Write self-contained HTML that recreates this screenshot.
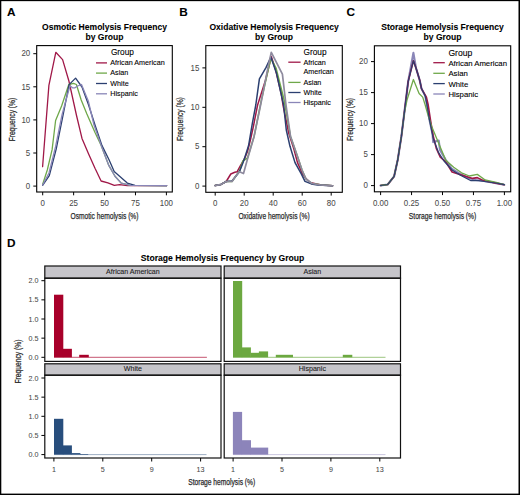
<!DOCTYPE html>
<html><head><meta charset="utf-8"><style>
html,body{margin:0;padding:0;background:#fff;}
svg{display:block;}
text{font-family:"Liberation Sans",sans-serif;}
</style></head><body>
<svg width="520" height="495" viewBox="0 0 520 495">
<rect x="0" y="0" width="520" height="495" fill="#fff"/>
<text x="7.0" y="16.0" font-size="11.8" font-weight="bold" fill="#000" stroke="#000" stroke-width="0.08" >A</text>
<text x="179.2" y="16.0" font-size="11.8" font-weight="bold" fill="#000" stroke="#000" stroke-width="0.08" >B</text>
<text x="346.4" y="16.0" font-size="11.8" font-weight="bold" fill="#000" stroke="#000" stroke-width="0.08" >C</text>
<text x="7.1" y="247.4" font-size="11.8" font-weight="bold" fill="#000" stroke="#000" stroke-width="0.08" >D</text>
<text x="104.5" y="29.5" font-size="8.55" font-weight="bold" text-anchor="middle" fill="#000" stroke="#000" stroke-width="0.08" >Osmotic Hemolysis Frequency</text>
<text x="104.5" y="39.5" font-size="8.55" font-weight="bold" text-anchor="middle" fill="#000" stroke="#000" stroke-width="0.08" >by Group</text>
<polyline points="42.6,166.7 48.9,85.4 55.8,52.3 62.6,59.6 68.9,81.0 76.4,115 82,138.4 88.5,153.8 95,168.3 101.1,181 107.9,182.9 114.3,185.3 119.6,184.6 127.3,185.7 166.6,185.7" fill="none" stroke="#a01848" stroke-width="1.3" stroke-linejoin="round" stroke-linecap="round"/>
<polyline points="42.6,184.5 47.3,170 52.1,149.7 55.6,120.5 61.6,106 68.8,84.5 73.5,83.3 76.4,84.5 81.2,100 86.9,114 95,132.5 101.2,145.4 108.8,165.4 115,176.2 121.2,183.1 130.4,185.4 166.6,185.7" fill="none" stroke="#6fa84a" stroke-width="1.3" stroke-linejoin="round" stroke-linecap="round"/>
<polyline points="42.6,185.3 49.3,175.6 56.2,149 62.6,117.4 69.1,84.6 75.6,78.1 82,87 88.5,104.8 95,125 101.9,145.4 108.8,159.2 114.2,171.5 119.6,176.2 127.3,183.1 135,185.4 166.6,185.7" fill="none" stroke="#2b3f70" stroke-width="1.3" stroke-linejoin="round" stroke-linecap="round"/>
<polyline points="42.6,185.0 49.0,173 55.5,147 62.0,115 66,100 70,85.8 72.5,87.8 75,87.8 77.6,86 81.5,84.5 86,95.5 88.3,101 94,125 101.2,145.4 108.8,165.4 115,176.2 121.2,183.1 130.4,185.4 166.6,185.7" fill="none" stroke="#8a86b8" stroke-width="1.3" stroke-linejoin="round" stroke-linecap="round"/>
<rect x="36.7" y="45.6" width="135.60000000000002" height="146.4" fill="none" stroke="#000" stroke-width="1.1"/>
<line x1="42.7" y1="192.0" x2="42.7" y2="195.3" stroke="#000" stroke-width="1"/>
<text transform="translate(42.70,206.00) scale(0.92,1)" font-size="8.6" text-anchor="middle" fill="#4a4a4a" stroke="#4a4a4a" stroke-width="0.05">0</text>
<line x1="73.625" y1="192.0" x2="73.625" y2="195.3" stroke="#000" stroke-width="1"/>
<text transform="translate(73.62,206.00) scale(0.92,1)" font-size="8.6" text-anchor="middle" fill="#4a4a4a" stroke="#4a4a4a" stroke-width="0.05">25</text>
<line x1="104.55000000000001" y1="192.0" x2="104.55000000000001" y2="195.3" stroke="#000" stroke-width="1"/>
<text transform="translate(104.55,206.00) scale(0.92,1)" font-size="8.6" text-anchor="middle" fill="#4a4a4a" stroke="#4a4a4a" stroke-width="0.05">50</text>
<line x1="135.47500000000002" y1="192.0" x2="135.47500000000002" y2="195.3" stroke="#000" stroke-width="1"/>
<text transform="translate(135.48,206.00) scale(0.92,1)" font-size="8.6" text-anchor="middle" fill="#4a4a4a" stroke="#4a4a4a" stroke-width="0.05">75</text>
<line x1="166.40000000000003" y1="192.0" x2="166.40000000000003" y2="195.3" stroke="#000" stroke-width="1"/>
<text transform="translate(166.40,206.00) scale(0.92,1)" font-size="8.6" text-anchor="middle" fill="#4a4a4a" stroke="#4a4a4a" stroke-width="0.05">100</text>
<line x1="33.300000000000004" y1="186.1" x2="36.7" y2="186.1" stroke="#000" stroke-width="1"/>
<text transform="translate(30.20,188.85) scale(0.92,1)" font-size="8.6" text-anchor="end" fill="#4a4a4a" stroke="#4a4a4a" stroke-width="0.05">0</text>
<line x1="33.300000000000004" y1="153.0" x2="36.7" y2="153.0" stroke="#000" stroke-width="1"/>
<text transform="translate(30.20,155.75) scale(0.92,1)" font-size="8.6" text-anchor="end" fill="#4a4a4a" stroke="#4a4a4a" stroke-width="0.05">5</text>
<line x1="33.300000000000004" y1="119.89999999999999" x2="36.7" y2="119.89999999999999" stroke="#000" stroke-width="1"/>
<text transform="translate(30.20,122.65) scale(0.92,1)" font-size="8.6" text-anchor="end" fill="#4a4a4a" stroke="#4a4a4a" stroke-width="0.05">10</text>
<line x1="33.300000000000004" y1="86.8" x2="36.7" y2="86.8" stroke="#000" stroke-width="1"/>
<text transform="translate(30.20,89.55) scale(0.92,1)" font-size="8.6" text-anchor="end" fill="#4a4a4a" stroke="#4a4a4a" stroke-width="0.05">15</text>
<line x1="33.300000000000004" y1="53.69999999999999" x2="36.7" y2="53.69999999999999" stroke="#000" stroke-width="1"/>
<text transform="translate(30.20,56.45) scale(0.92,1)" font-size="8.6" text-anchor="end" fill="#4a4a4a" stroke="#4a4a4a" stroke-width="0.05">20</text>
<text x="104.5" y="219.4" font-size="9.5" text-anchor="middle" fill="#2a2a2a" textLength="68.0" lengthAdjust="spacingAndGlyphs" stroke="#2a2a2a" stroke-width="0.25">Osmotic hemolysis (%)</text>
<text transform="translate(14.6,119.6) rotate(-90)" x="0" y="0" font-size="9.6" text-anchor="middle" fill="#2a2a2a" textLength="43.5" lengthAdjust="spacingAndGlyphs" stroke="#2a2a2a" stroke-width="0.25">Frequency (%)</text>
<text x="110.9" y="55.3" font-size="8.3" fill="#000" stroke="#000" stroke-width="0.1" >Group</text>
<line x1="96" y1="62.9" x2="107" y2="62.9" stroke="#a01848" stroke-width="1.3"/>
<text x="110.3" y="65.1" font-size="7.2" fill="#000" stroke="#000" stroke-width="0.1" >African American</text>
<line x1="96" y1="73.1" x2="107" y2="73.1" stroke="#6fa84a" stroke-width="1.3"/>
<text x="110.3" y="75.3" font-size="7.2" fill="#000" stroke="#000" stroke-width="0.1" >Asian</text>
<line x1="96" y1="83.5" x2="107" y2="83.5" stroke="#2b3f70" stroke-width="1.3"/>
<text x="110.3" y="85.7" font-size="7.2" fill="#000" stroke="#000" stroke-width="0.1" >White</text>
<line x1="96" y1="93.8" x2="107" y2="93.8" stroke="#8a86b8" stroke-width="1.3"/>
<text x="110.3" y="96.0" font-size="7.2" fill="#000" stroke="#000" stroke-width="0.1" >Hispanic</text>
<text x="274.05" y="29.5" font-size="8.55" font-weight="bold" text-anchor="middle" fill="#000" stroke="#000" stroke-width="0.08" >Oxidative Hemolysis Frequency</text>
<text x="274.05" y="39.5" font-size="8.55" font-weight="bold" text-anchor="middle" fill="#000" stroke="#000" stroke-width="0.08" >by Group</text>
<polyline points="215.2,185.6 221,184.4 226.2,181.5 230.8,174 234.8,172.3 237.2,171.7 240.6,165.4 244.1,159.6 247.5,151.5 250.4,140 253.2,127.3 257.6,105 265.5,80.2 271.3,56.5 275.8,70.5 281.2,93.5 283,105 288.6,132.7 293.8,148.8 297.5,162.6 302.5,173.9 305.7,178.2 310,182.6 320,184.8 332.6,185.8" fill="none" stroke="#a01848" stroke-width="1.5" stroke-linejoin="round" stroke-linecap="round"/>
<polyline points="215.2,185.6 221,184.4 226.2,181.5 232,181.5 236,175.8 239.5,171.2 242.9,160.8 247.5,158.0 254.1,136.4 261.4,100 267,75 270.9,58.3 276,68 284.1,100 290.5,136.4 296.8,154.5 302,170 306,179 312,183.5 320,184.8 332.6,185.8" fill="none" stroke="#6fa84a" stroke-width="1.5" stroke-linejoin="round" stroke-linecap="round"/>
<polyline points="215.2,185.6 221,184.4 226.2,181.5 232,181 236,176 239.5,171.5 242.9,163 245.2,156.2 248.6,145.5 252.3,123.6 255.8,105 259.4,78.9 266.1,67.4 270.9,57.1 276.4,72.9 283.6,105 286.3,130 290,146.3 295,162.6 301.3,173.9 305,181.4 311.3,183.9 317.6,185.1 332.6,185.8" fill="none" stroke="#2b3f70" stroke-width="1.5" stroke-linejoin="round" stroke-linecap="round"/>
<polyline points="215.2,185.6 221,184.4 226.2,181.5 232,181.5 236,175.8 239.5,171.7 243.5,173.5 247.5,159 254.1,136.4 260.6,105 267.9,68 271.3,52.3 282.4,74.1 286,105 290.5,136.4 296.8,154.5 302,170 306,179 312,183.5 320,184.8 332.6,185.8" fill="none" stroke="#8e8a9e" stroke-width="1.7" stroke-linejoin="round" stroke-linecap="round"/>
<rect x="205.8" y="45.6" width="136.5" height="146.70000000000002" fill="none" stroke="#000" stroke-width="1.1"/>
<line x1="215.2" y1="192.3" x2="215.2" y2="195.60000000000002" stroke="#000" stroke-width="1"/>
<text transform="translate(215.20,206.00) scale(0.92,1)" font-size="8.6" text-anchor="middle" fill="#4a4a4a" stroke="#4a4a4a" stroke-width="0.05">0</text>
<line x1="244.2" y1="192.3" x2="244.2" y2="195.60000000000002" stroke="#000" stroke-width="1"/>
<text transform="translate(244.20,206.00) scale(0.92,1)" font-size="8.6" text-anchor="middle" fill="#4a4a4a" stroke="#4a4a4a" stroke-width="0.05">20</text>
<line x1="273.2" y1="192.3" x2="273.2" y2="195.60000000000002" stroke="#000" stroke-width="1"/>
<text transform="translate(273.20,206.00) scale(0.92,1)" font-size="8.6" text-anchor="middle" fill="#4a4a4a" stroke="#4a4a4a" stroke-width="0.05">40</text>
<line x1="302.2" y1="192.3" x2="302.2" y2="195.60000000000002" stroke="#000" stroke-width="1"/>
<text transform="translate(302.20,206.00) scale(0.92,1)" font-size="8.6" text-anchor="middle" fill="#4a4a4a" stroke="#4a4a4a" stroke-width="0.05">60</text>
<line x1="331.2" y1="192.3" x2="331.2" y2="195.60000000000002" stroke="#000" stroke-width="1"/>
<text transform="translate(331.20,206.00) scale(0.92,1)" font-size="8.6" text-anchor="middle" fill="#4a4a4a" stroke="#4a4a4a" stroke-width="0.05">80</text>
<line x1="202.4" y1="186.1" x2="205.8" y2="186.1" stroke="#000" stroke-width="1"/>
<text transform="translate(199.30,188.85) scale(0.92,1)" font-size="8.6" text-anchor="end" fill="#4a4a4a" stroke="#4a4a4a" stroke-width="0.05">0</text>
<line x1="202.4" y1="146.7" x2="205.8" y2="146.7" stroke="#000" stroke-width="1"/>
<text transform="translate(199.30,149.45) scale(0.92,1)" font-size="8.6" text-anchor="end" fill="#4a4a4a" stroke="#4a4a4a" stroke-width="0.05">5</text>
<line x1="202.4" y1="107.3" x2="205.8" y2="107.3" stroke="#000" stroke-width="1"/>
<text transform="translate(199.30,110.05) scale(0.92,1)" font-size="8.6" text-anchor="end" fill="#4a4a4a" stroke="#4a4a4a" stroke-width="0.05">10</text>
<line x1="202.4" y1="67.89999999999999" x2="205.8" y2="67.89999999999999" stroke="#000" stroke-width="1"/>
<text transform="translate(199.30,70.65) scale(0.92,1)" font-size="8.6" text-anchor="end" fill="#4a4a4a" stroke="#4a4a4a" stroke-width="0.05">15</text>
<text x="274.05" y="219.4" font-size="9.5" text-anchor="middle" fill="#2a2a2a" textLength="71.2" lengthAdjust="spacingAndGlyphs" stroke="#2a2a2a" stroke-width="0.25">Oxidative hemolysis (%)</text>
<text transform="translate(183.4,119.1) rotate(-90)" x="0" y="0" font-size="9.6" text-anchor="middle" fill="#2a2a2a" textLength="43.8" lengthAdjust="spacingAndGlyphs" stroke="#2a2a2a" stroke-width="0.25">Frequency (%)</text>
<text x="303.5" y="55.4" font-size="8.3" fill="#000" stroke="#000" stroke-width="0.1" >Group</text>
<line x1="288.3" y1="62.2" x2="300.6" y2="62.2" stroke="#a01848" stroke-width="1.3"/>
<text x="303.4" y="64.60000000000001" font-size="7.2" fill="#000" stroke="#000" stroke-width="0.1" >African</text>
<line x1="288.3" y1="82.4" x2="300.6" y2="82.4" stroke="#6fa84a" stroke-width="1.3"/>
<text x="303.4" y="84.80000000000001" font-size="7.2" fill="#000" stroke="#000" stroke-width="0.1" >Asian</text>
<line x1="288.3" y1="92.5" x2="300.6" y2="92.5" stroke="#2b3f70" stroke-width="1.3"/>
<text x="303.4" y="94.9" font-size="7.2" fill="#000" stroke="#000" stroke-width="0.1" >White</text>
<line x1="288.3" y1="102.5" x2="300.6" y2="102.5" stroke="#8a86b8" stroke-width="1.3"/>
<text x="303.4" y="104.9" font-size="7.2" fill="#000" stroke="#000" stroke-width="0.1" >Hispanic</text>
<text x="303.4" y="73.7" font-size="7.2" fill="#000" stroke="#000" stroke-width="0.1" >American</text>
<text x="442.54999999999995" y="29.5" font-size="8.55" font-weight="bold" text-anchor="middle" fill="#000" stroke="#000" stroke-width="0.08" >Storage Hemolysis Frequency</text>
<text x="442.54999999999995" y="39.5" font-size="8.55" font-weight="bold" text-anchor="middle" fill="#000" stroke="#000" stroke-width="0.08" >by Group</text>
<polyline points="380.6,185.5 387.7,184.5 394.1,176.4 397.7,160 401.4,136.4 405.9,100 408.2,81.4 413.4,52.9 416,68 419.7,80.2 421.5,88.6 425.2,95.9 427,105 429.5,120 432.5,134 433.2,142.1 438.7,140.5 440,150 445.8,160 452,169 460,174 468,178 476,180 484,181 492,182.5 504.3,184.7" fill="none" stroke="#8a86b8" stroke-width="2.1" stroke-linejoin="round" stroke-linecap="round"/>
<polyline points="380.6,185.5 387.7,184.5 394.1,176.4 397.7,160 401.4,136.4 405.9,100 408.2,81.4 413.4,60.8 416,68 419.7,80.2 421.5,88.6 426.4,97.1 428.2,105 430.5,120 433.2,136 436.3,148.4 440.3,157.1 445.8,161.8 452.1,172 456.8,173.6 464.7,176 472.6,178.4 477.3,177.6 482.1,180 488.4,181.5 496.2,183.1 504.3,184.7" fill="none" stroke="#a01848" stroke-width="1.6" stroke-linejoin="round" stroke-linecap="round"/>
<polyline points="380.6,185.5 387.7,184.5 394.1,176.4 397.7,160 401.4,136.4 404.5,112 407,100 413.4,79.5 419.1,93.5 422.7,97.1 425.2,105 428,115 431.6,126.3 439.5,145.2 445.8,160.2 453.7,167.3 461.5,172.8 469.4,176 477.3,174.4 485.2,180 496.2,182.3 504.3,184.7" fill="none" stroke="#6fa84a" stroke-width="1.3" stroke-linejoin="round" stroke-linecap="round"/>
<polyline points="380.6,185.5 387.7,184.5 394.1,176.4 397.7,160 401.4,136.4 405.9,100 408.2,81.4 413.4,60.8 416,68 419.7,80.2 421.5,88.6 425.2,95.9 427,105 429.5,120 433.2,138.2 438.6,152.7 444,161 452,170 460,175 471,180.7 478.9,180.7 488,182 496,183 504.3,184.7" fill="none" stroke="#2b3f70" stroke-width="1.2" stroke-linejoin="round" stroke-linecap="round"/>
<rect x="374.4" y="45.8" width="136.3" height="146.0" fill="none" stroke="#000" stroke-width="1.1"/>
<line x1="380.6" y1="191.8" x2="380.6" y2="195.10000000000002" stroke="#000" stroke-width="1"/>
<text transform="translate(380.60,206.00) scale(0.92,1)" font-size="8.6" text-anchor="middle" fill="#4a4a4a" stroke="#4a4a4a" stroke-width="0.05">0.00</text>
<line x1="411.55" y1="191.8" x2="411.55" y2="195.10000000000002" stroke="#000" stroke-width="1"/>
<text transform="translate(411.55,206.00) scale(0.92,1)" font-size="8.6" text-anchor="middle" fill="#4a4a4a" stroke="#4a4a4a" stroke-width="0.05">0.25</text>
<line x1="442.5" y1="191.8" x2="442.5" y2="195.10000000000002" stroke="#000" stroke-width="1"/>
<text transform="translate(442.50,206.00) scale(0.92,1)" font-size="8.6" text-anchor="middle" fill="#4a4a4a" stroke="#4a4a4a" stroke-width="0.05">0.50</text>
<line x1="473.45000000000005" y1="191.8" x2="473.45000000000005" y2="195.10000000000002" stroke="#000" stroke-width="1"/>
<text transform="translate(473.45,206.00) scale(0.92,1)" font-size="8.6" text-anchor="middle" fill="#4a4a4a" stroke="#4a4a4a" stroke-width="0.05">0.75</text>
<line x1="504.40000000000003" y1="191.8" x2="504.40000000000003" y2="195.10000000000002" stroke="#000" stroke-width="1"/>
<text transform="translate(504.40,206.00) scale(0.92,1)" font-size="8.6" text-anchor="middle" fill="#4a4a4a" stroke="#4a4a4a" stroke-width="0.05">1.00</text>
<line x1="371.0" y1="185.6" x2="374.4" y2="185.6" stroke="#000" stroke-width="1"/>
<text transform="translate(367.90,188.35) scale(0.92,1)" font-size="8.6" text-anchor="end" fill="#4a4a4a" stroke="#4a4a4a" stroke-width="0.05">0</text>
<line x1="371.0" y1="154.6" x2="374.4" y2="154.6" stroke="#000" stroke-width="1"/>
<text transform="translate(367.90,157.35) scale(0.92,1)" font-size="8.6" text-anchor="end" fill="#4a4a4a" stroke="#4a4a4a" stroke-width="0.05">5</text>
<line x1="371.0" y1="123.6" x2="374.4" y2="123.6" stroke="#000" stroke-width="1"/>
<text transform="translate(367.90,126.35) scale(0.92,1)" font-size="8.6" text-anchor="end" fill="#4a4a4a" stroke="#4a4a4a" stroke-width="0.05">10</text>
<line x1="371.0" y1="92.6" x2="374.4" y2="92.6" stroke="#000" stroke-width="1"/>
<text transform="translate(367.90,95.35) scale(0.92,1)" font-size="8.6" text-anchor="end" fill="#4a4a4a" stroke="#4a4a4a" stroke-width="0.05">15</text>
<line x1="371.0" y1="61.599999999999994" x2="374.4" y2="61.599999999999994" stroke="#000" stroke-width="1"/>
<text transform="translate(367.90,64.35) scale(0.92,1)" font-size="8.6" text-anchor="end" fill="#4a4a4a" stroke="#4a4a4a" stroke-width="0.05">20</text>
<text x="442.54999999999995" y="219.4" font-size="9.5" text-anchor="middle" fill="#2a2a2a" textLength="67.5" lengthAdjust="spacingAndGlyphs" stroke="#2a2a2a" stroke-width="0.25">Storage hemolysis (%)</text>
<text transform="translate(352.6,119.5) rotate(-90)" x="0" y="0" font-size="9.6" text-anchor="middle" fill="#2a2a2a" textLength="43.0" lengthAdjust="spacingAndGlyphs" stroke="#2a2a2a" stroke-width="0.25">Frequency (%)</text>
<text x="448.4" y="55.6" font-size="8.6" fill="#000" stroke="#000" stroke-width="0.1" >Group</text>
<line x1="433.3" y1="62.7" x2="444.8" y2="62.7" stroke="#a01848" stroke-width="1.3"/>
<text x="448.4" y="65.60000000000001" font-size="7.75" fill="#000" stroke="#000" stroke-width="0.1" >African American</text>
<line x1="433.3" y1="73.3" x2="444.8" y2="73.3" stroke="#6fa84a" stroke-width="1.3"/>
<text x="448.4" y="76.2" font-size="7.75" fill="#000" stroke="#000" stroke-width="0.1" >Asian</text>
<line x1="433.3" y1="83.6" x2="444.8" y2="83.6" stroke="#2b3f70" stroke-width="1.3"/>
<text x="448.4" y="86.5" font-size="7.75" fill="#000" stroke="#000" stroke-width="0.1" >White</text>
<line x1="433.3" y1="94.0" x2="444.8" y2="94.0" stroke="#8a86b8" stroke-width="1.3"/>
<text x="448.4" y="96.9" font-size="7.75" fill="#000" stroke="#000" stroke-width="0.1" >Hispanic</text>
<text x="222.6" y="260.8" font-size="8.58" font-weight="bold" text-anchor="middle" fill="#000" stroke="#000" stroke-width="0.08" >Storage Hemolysis Frequency by Group</text>
<line x1="54" y1="357.29999999999995" x2="206.9" y2="357.29999999999995" stroke="#a8002a" stroke-width="0.9" stroke-opacity="0.75"/>
<rect x="54" y="294.7" width="9.299999999999999" height="62.599999999999966" fill="#a8002a" stroke="none" stroke-width="1"/>
<rect x="62.9" y="348.8" width="9.000000000000002" height="8.499999999999943" fill="#a8002a" stroke="none" stroke-width="1"/>
<rect x="79.2" y="354.8" width="9.600000000000003" height="2.499999999999943" fill="#a8002a" stroke="none" stroke-width="1"/>
<rect x="44.8" y="266.0" width="176.2" height="12.199999999999989" fill="#c6c5ca" stroke="#111" stroke-width="1.2"/>
<rect x="44.8" y="278.2" width="176.2" height="83.19999999999999" fill="none" stroke="#111" stroke-width="1.2"/>
<text x="132.9" y="274.2" font-size="7.1" text-anchor="middle" fill="#222" stroke="#222" stroke-width="0.1" >African American</text>
<line x1="233.0" y1="357.29999999999995" x2="385.5" y2="357.29999999999995" stroke="#6ca840" stroke-width="0.9" stroke-opacity="0.75"/>
<rect x="233.0" y="281.0" width="9.200000000000012" height="76.29999999999995" fill="#6ca840" stroke="none" stroke-width="1"/>
<rect x="241.8" y="347.4" width="9.099999999999989" height="9.899999999999977" fill="#6ca840" stroke="none" stroke-width="1"/>
<rect x="250.5" y="352.8" width="8.799999999999978" height="4.499999999999943" fill="#6ca840" stroke="none" stroke-width="1"/>
<rect x="258.9" y="351.4" width="9.200000000000012" height="5.899999999999977" fill="#6ca840" stroke="none" stroke-width="1"/>
<rect x="275.8" y="354.8" width="17.20000000000001" height="2.499999999999943" fill="#6ca840" stroke="none" stroke-width="1"/>
<rect x="342.8" y="354.8" width="9.499999999999966" height="2.499999999999943" fill="#6ca840" stroke="none" stroke-width="1"/>
<rect x="224.2" y="266.0" width="176.3" height="12.199999999999989" fill="#c6c5ca" stroke="#111" stroke-width="1.2"/>
<rect x="224.2" y="278.2" width="176.3" height="83.19999999999999" fill="none" stroke="#111" stroke-width="1.2"/>
<text x="312.35" y="274.2" font-size="7.1" text-anchor="middle" fill="#222" stroke="#222" stroke-width="0.1" >Asian</text>
<line x1="54" y1="454.6" x2="206.5" y2="454.6" stroke="#284e7d" stroke-width="0.9" stroke-opacity="0.5"/>
<rect x="54" y="418.8" width="9.299999999999999" height="35.80000000000001" fill="#284e7d" stroke="none" stroke-width="1"/>
<rect x="62.9" y="445.4" width="9.000000000000002" height="9.200000000000045" fill="#284e7d" stroke="none" stroke-width="1"/>
<rect x="71.5" y="453.1" width="8.9" height="1.5" fill="#284e7d" stroke="none" stroke-width="1"/>
<rect x="80" y="454.0" width="8.199999999999998" height="0.6000000000000227" fill="#284e7d" stroke="none" stroke-width="1"/>
<rect x="44.8" y="363.8" width="176.2" height="11.399999999999977" fill="#c6c5ca" stroke="#111" stroke-width="1.2"/>
<rect x="44.8" y="375.2" width="176.2" height="82.80000000000001" fill="none" stroke="#111" stroke-width="1.2"/>
<text x="132.9" y="371.2" font-size="7.1" text-anchor="middle" fill="#222" stroke="#222" stroke-width="0.1" >White</text>
<line x1="233.0" y1="454.6" x2="385.5" y2="454.6" stroke="#8c84ba" stroke-width="0.9" stroke-opacity="0.5"/>
<rect x="232.9" y="411.9" width="9.199999999999983" height="42.700000000000045" fill="#8c84ba" stroke="none" stroke-width="1"/>
<rect x="241.7" y="440.2" width="9.300000000000006" height="14.400000000000034" fill="#8c84ba" stroke="none" stroke-width="1"/>
<rect x="250.6" y="447.6" width="17.600000000000016" height="7.0" fill="#8c84ba" stroke="none" stroke-width="1"/>
<rect x="224.2" y="363.8" width="176.3" height="11.399999999999977" fill="#c6c5ca" stroke="#111" stroke-width="1.2"/>
<rect x="224.2" y="375.2" width="176.3" height="82.80000000000001" fill="none" stroke="#111" stroke-width="1.2"/>
<text x="312.35" y="371.2" font-size="7.1" text-anchor="middle" fill="#222" stroke="#222" stroke-width="0.1" >Hispanic</text>
<line x1="41.4" y1="357.3" x2="44.8" y2="357.3" stroke="#000" stroke-width="1"/>
<text transform="translate(38.50,359.85) scale(0.92,1)" font-size="7.8" text-anchor="end" fill="#4a4a4a" stroke="#4a4a4a" stroke-width="0.05">0.0</text>
<line x1="41.4" y1="338.15000000000003" x2="44.8" y2="338.15000000000003" stroke="#000" stroke-width="1"/>
<text transform="translate(38.50,340.70) scale(0.92,1)" font-size="7.8" text-anchor="end" fill="#4a4a4a" stroke="#4a4a4a" stroke-width="0.05">0.5</text>
<line x1="41.4" y1="319.0" x2="44.8" y2="319.0" stroke="#000" stroke-width="1"/>
<text transform="translate(38.50,321.55) scale(0.92,1)" font-size="7.8" text-anchor="end" fill="#4a4a4a" stroke="#4a4a4a" stroke-width="0.05">1.0</text>
<line x1="41.4" y1="299.85" x2="44.8" y2="299.85" stroke="#000" stroke-width="1"/>
<text transform="translate(38.50,302.40) scale(0.92,1)" font-size="7.8" text-anchor="end" fill="#4a4a4a" stroke="#4a4a4a" stroke-width="0.05">1.5</text>
<line x1="41.4" y1="280.70000000000005" x2="44.8" y2="280.70000000000005" stroke="#000" stroke-width="1"/>
<text transform="translate(38.50,283.25) scale(0.92,1)" font-size="7.8" text-anchor="end" fill="#4a4a4a" stroke="#4a4a4a" stroke-width="0.05">2.0</text>
<line x1="41.4" y1="454.6" x2="44.8" y2="454.6" stroke="#000" stroke-width="1"/>
<text transform="translate(38.50,457.15) scale(0.92,1)" font-size="7.8" text-anchor="end" fill="#4a4a4a" stroke="#4a4a4a" stroke-width="0.05">0.0</text>
<line x1="41.4" y1="435.45000000000005" x2="44.8" y2="435.45000000000005" stroke="#000" stroke-width="1"/>
<text transform="translate(38.50,438.00) scale(0.92,1)" font-size="7.8" text-anchor="end" fill="#4a4a4a" stroke="#4a4a4a" stroke-width="0.05">0.5</text>
<line x1="41.4" y1="416.3" x2="44.8" y2="416.3" stroke="#000" stroke-width="1"/>
<text transform="translate(38.50,418.85) scale(0.92,1)" font-size="7.8" text-anchor="end" fill="#4a4a4a" stroke="#4a4a4a" stroke-width="0.05">1.0</text>
<line x1="41.4" y1="397.15000000000003" x2="44.8" y2="397.15000000000003" stroke="#000" stroke-width="1"/>
<text transform="translate(38.50,399.70) scale(0.92,1)" font-size="7.8" text-anchor="end" fill="#4a4a4a" stroke="#4a4a4a" stroke-width="0.05">1.5</text>
<line x1="41.4" y1="378.0" x2="44.8" y2="378.0" stroke="#000" stroke-width="1"/>
<text transform="translate(38.50,380.55) scale(0.92,1)" font-size="7.8" text-anchor="end" fill="#4a4a4a" stroke="#4a4a4a" stroke-width="0.05">2.0</text>
<line x1="53.9" y1="458" x2="53.9" y2="461.5" stroke="#000" stroke-width="1"/>
<text transform="translate(53.90,471.60) scale(0.92,1)" font-size="7.8" text-anchor="middle" fill="#4a4a4a" stroke="#4a4a4a" stroke-width="0.05">1</text>
<line x1="102.8" y1="458" x2="102.8" y2="461.5" stroke="#000" stroke-width="1"/>
<text transform="translate(102.80,471.60) scale(0.92,1)" font-size="7.8" text-anchor="middle" fill="#4a4a4a" stroke="#4a4a4a" stroke-width="0.05">5</text>
<line x1="151.7" y1="458" x2="151.7" y2="461.5" stroke="#000" stroke-width="1"/>
<text transform="translate(151.70,471.60) scale(0.92,1)" font-size="7.8" text-anchor="middle" fill="#4a4a4a" stroke="#4a4a4a" stroke-width="0.05">9</text>
<line x1="200.6" y1="458" x2="200.6" y2="461.5" stroke="#000" stroke-width="1"/>
<text transform="translate(200.60,471.60) scale(0.92,1)" font-size="7.8" text-anchor="middle" fill="#4a4a4a" stroke="#4a4a4a" stroke-width="0.05">13</text>
<line x1="233.1" y1="458" x2="233.1" y2="461.5" stroke="#000" stroke-width="1"/>
<text transform="translate(233.10,471.60) scale(0.92,1)" font-size="7.8" text-anchor="middle" fill="#4a4a4a" stroke="#4a4a4a" stroke-width="0.05">1</text>
<line x1="282.0" y1="458" x2="282.0" y2="461.5" stroke="#000" stroke-width="1"/>
<text transform="translate(282.00,471.60) scale(0.92,1)" font-size="7.8" text-anchor="middle" fill="#4a4a4a" stroke="#4a4a4a" stroke-width="0.05">5</text>
<line x1="330.9" y1="458" x2="330.9" y2="461.5" stroke="#000" stroke-width="1"/>
<text transform="translate(330.90,471.60) scale(0.92,1)" font-size="7.8" text-anchor="middle" fill="#4a4a4a" stroke="#4a4a4a" stroke-width="0.05">9</text>
<line x1="379.79999999999995" y1="458" x2="379.79999999999995" y2="461.5" stroke="#000" stroke-width="1"/>
<text transform="translate(379.80,471.60) scale(0.92,1)" font-size="7.8" text-anchor="middle" fill="#4a4a4a" stroke="#4a4a4a" stroke-width="0.05">13</text>
<text x="221.7" y="485.4" font-size="9.0" text-anchor="middle" fill="#2a2a2a" textLength="67" lengthAdjust="spacingAndGlyphs" stroke="#2a2a2a" stroke-width="0.25">Storage hemolysis (%)</text>
<text transform="translate(21.1,361.6) rotate(-90)" x="0" y="0" font-size="8.2" text-anchor="middle" fill="#2a2a2a" textLength="44" lengthAdjust="spacingAndGlyphs" stroke="#2a2a2a" stroke-width="0.25">Frequency (%)</text>
<rect x="0" y="0" width="1.3" height="495" fill="#000"/><rect x="0" y="0" width="520" height="1.15" fill="#000"/><rect x="518.5" y="0" width="1.5" height="495" fill="#000"/><rect x="0" y="493.6" width="520" height="1.4" fill="#000"/>
</svg></body></html>
